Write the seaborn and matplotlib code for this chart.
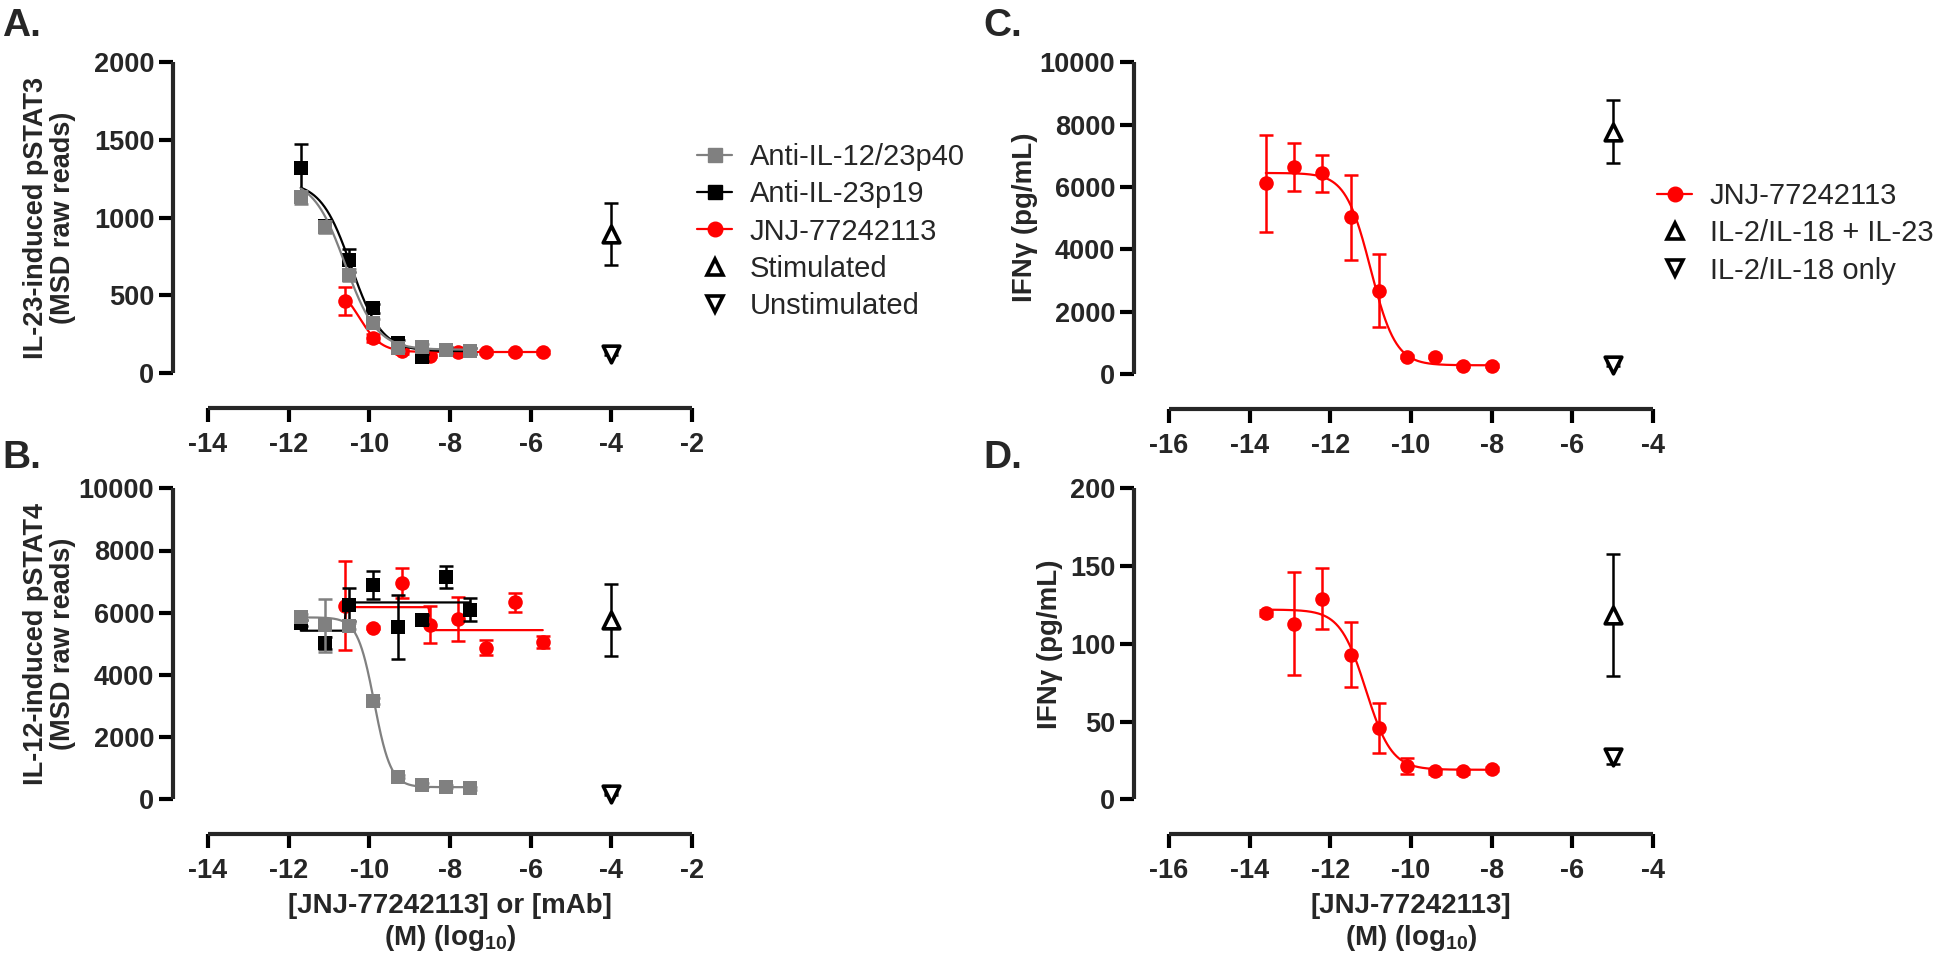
import numpy as np
import pandas as pd
import matplotlib
matplotlib.use('Agg')
import matplotlib.pyplot as plt
from matplotlib.lines import Line2D
import seaborn as sns

# ---- panel A: IL-23 induced pSTAT3 ----
mab_x = [-11.7, -11.1, -10.5, -9.9, -9.3, -8.7, -8.1, -7.5]
jnj_x = [-10.6, -9.9, -9.2, -8.5, -7.8, -7.1, -6.4, -5.7]
a_p40_y = [1130, 940, 630, 320, 160, 165, 150, 140]
a_p40_err = [40, 40, 40, 30, 20, 20, 20, 20]
a_p19_y = [1320, 945, 725, 415, 190, 100, 150, 140]
a_p19_err = [150, 30, 75, 30, 20, 20, 20, 20]
a_jnj_y = [460, 225, 140, 110, 135, 135, 135, 135]
a_jnj_err = [90, 25, 15, 10, 10, 10, 10, 10]
a_stim = [895, 200]
a_unstim = [125, 10]

# ---- panel B: IL-12 induced pSTAT4 ----
b_p40_y = [5850, 5600, 5560, 3150, 730, 460, 405, 355]
b_p40_err = [100, 850, 100, 100, 50, 50, 50, 50]
b_p19_y = [5660, 5020, 6250, 6900, 5550, 5780, 7140, 6100]
b_p19_err = [100, 200, 530, 450, 1030, 150, 350, 380]
b_jnj_y = [6230, 5520, 6960, 5610, 5800, 4880, 6330, 5060]
b_jnj_err = [1420, 50, 480, 600, 700, 250, 300, 180]
b_stim = [5770, 1150]
b_unstim = [180, 30]

# ---- panels C / D: IFNg ----
cd_x = [-13.6, -12.9, -12.2, -11.5, -10.8, -10.1, -9.4, -8.7, -8.0]
c_y = [6120, 6650, 6440, 5030, 2670, 560, 555, 270, 270]
c_err = [1560, 770, 600, 1360, 1170, 60, 50, 40, 40]
c_stim = [7775, 1010]
c_unstim = [300, 40]
d_y = [120, 113, 129, 93, 46, 21.5, 18, 18, 19.5]
d_err = [2, 33, 19.5, 21, 16, 5, 1.5, 1.5, 1.5]
d_stim = [118.5, 39]
d_unstim = [27, 4]

# 4PL fit parameters: top, bottom, logIC50, hill
a_p40_fit = (1250, 150, -10.6, 1.1)
a_p19_fit = (1230, 140, -10.45, 1.15)
a_jnj_fit = (580, 135, -10.25, 1.6)
b_p40_fit = (5850, 390, -9.88, 2.1)
b_p19_fit = (5420, 6330, -10.6, 40)
b_jnj_fit = (6180, 5440, -8.5, 40)
c_fit = (6450, 280, -11.0, 1.4)
d_fit = (122, 19, -11.12, 1.36)

GRAY = '#808080'
RED = '#FF0000'

sns.set_theme(style='ticks')
plt.rcParams['font.family'] = ['Liberation Sans', 'DejaVu Sans']
plt.rcParams['axes.unicode_minus'] = False
plt.rcParams['mathtext.fontset'] = 'custom'
plt.rcParams['mathtext.rm'] = 'Liberation Sans:bold'
plt.rcParams['mathtext.default'] = 'rm'

W, H = 1948, 961
fig = plt.figure(figsize=(W / 100, H / 100), dpi=100)
PX = 0.72  # points per pixel


def add_ax(x0, x1, y_top, y_bot):
    return fig.add_axes([x0 / W, 1 - y_bot / H, (x1 - x0) / W, (y_bot - y_top) / H])


def style(ax, xlim, xticks, ylim, yticks):
    ax.set_facecolor('none')
    ax.set_xlim(xlim)
    ax.set_ylim(ylim)
    ax.set_xticks(xticks)
    ax.set_yticks(yticks)
    for s in ['top', 'right']:
        ax.spines[s].set_visible(False)
    for s in ['left', 'bottom']:
        ax.spines[s].set_position(('outward', 35 * PX))
        ax.spines[s].set_linewidth(3)
        ax.spines[s].set_capstyle('butt')
    ax.tick_params(width=3, length=10, labelsize=19.5, color='black')
    ax.tick_params(axis='x', pad=7)
    ax.tick_params(axis='y', pad=3.5)
    for lab in ax.get_xticklabels() + ax.get_yticklabels():
        lab.set_fontweight('bold')


def fit_curve(ax, lo, hi, params, color, z):
    top, bottom, logc, hill = params
    xs = np.linspace(lo, hi, 400)
    ys = bottom + (top - bottom) / (1 + 10 ** ((xs - logc) * hill))
    sns.lineplot(x=xs, y=ys, ax=ax, color=color, linewidth=1.6, zorder=z)


def points(ax, x, y, err, color, marker, size, z, face=None, ew=0):
    ax.errorbar(x, y, yerr=err, fmt='none', ecolor=color, elinewidth=1.8,
                capsize=4.8, capthick=1.8, zorder=z, clip_on=False)
    df = pd.DataFrame({'x': x, 'y': y})
    sns.scatterplot(data=df, x='x', y='y', ax=ax, marker=marker, s=size ** 2,
                    color=face if face else color, edgecolor=color, linewidth=ew,
                    zorder=z + 0.1, legend=False, clip_on=False)


def controls(ax, xpos, stim, unstim):
    points(ax, [xpos], [stim[0]], [stim[1]], 'black', '^', 12, 5, face='white', ew=2.6)
    points(ax, [xpos], [unstim[0]], [unstim[1]], 'black', 'v', 12, 5, face='white', ew=2.6)


# ---------- A ----------
axA = add_ax(208, 692, 62, 373)
fit_curve(axA, -10.6, -5.7, a_jnj_fit, RED, 2)
points(axA, jnj_x, a_jnj_y, a_jnj_err, RED, 'o', 10.5, 2)
fit_curve(axA, -11.7, -7.5, a_p19_fit, 'black', 3)
points(axA, mab_x, a_p19_y, a_p19_err, 'black', 's', 10.5, 3)
fit_curve(axA, -11.7, -7.5, a_p40_fit, GRAY, 4)
points(axA, mab_x, a_p40_y, a_p40_err, GRAY, 's', 10.5, 4)
controls(axA, -4, a_stim, a_unstim)
style(axA, (-14, -2), range(-14, -1, 2), (0, 2000), range(0, 2001, 500))
axA.set_xlabel('')
axA.set_ylabel('IL-23-induced pSTAT3\n(MSD raw reads)', fontsize=19.5,
               fontweight='bold', linespacing=1.05)
axA.yaxis.set_label_coords(76 / W, 1 - 217.5 / H, transform=fig.transFigure)

# ---------- B ----------
axB = add_ax(208, 692, 488.3, 799.3)
fit_curve(axB, -10.6, -5.7, b_jnj_fit, RED, 2)
points(axB, jnj_x, b_jnj_y, b_jnj_err, RED, 'o', 10.5, 2)
fit_curve(axB, -11.7, -7.5, b_p19_fit, 'black', 3)
points(axB, mab_x, b_p19_y, b_p19_err, 'black', 's', 10.5, 3)
fit_curve(axB, -11.7, -7.5, b_p40_fit, GRAY, 4)
points(axB, mab_x, b_p40_y, b_p40_err, GRAY, 's', 10.5, 4)
controls(axB, -4, b_stim, b_unstim)
style(axB, (-14, -2), range(-14, -1, 2), (0, 10000), range(0, 10001, 2000))
axB.set_ylabel('IL-12-induced pSTAT4\n(MSD raw reads)', fontsize=19.5,
               fontweight='bold', linespacing=1.05)
axB.yaxis.set_label_coords(76 / W, 1 - 643.8 / H, transform=fig.transFigure)
axB.set_xlabel('[JNJ-77242113] or [mAb]\n(M) (log$_{10}$)', fontsize=20,
               fontweight='bold', linespacing=1.2)
axB.xaxis.set_label_coords(450 / W, 1 - 893 / H, transform=fig.transFigure)

# ---------- C ----------
axC = add_ax(1169, 1653, 62.3, 374)
fit_curve(axC, -13.6, -8.0, c_fit, RED, 2)
points(axC, cd_x, c_y, c_err, RED, 'o', 10.5, 2)
controls(axC, -5, c_stim, c_unstim)
style(axC, (-16, -4), range(-16, -3, 2), (0, 10000), range(0, 10001, 2000))
axC.set_xlabel('')
axC.set_ylabel('IFNγ (pg/mL)', fontsize=20, fontweight='bold')
axC.yaxis.set_label_coords(1038 / W, 1 - 217.5 / H, transform=fig.transFigure)

# ---------- D ----------
axD = add_ax(1169, 1653, 488.3, 799.3)
fit_curve(axD, -13.6, -8.0, d_fit, RED, 2)
points(axD, cd_x, d_y, d_err, RED, 'o', 10.5, 2)
controls(axD, -5, d_stim, d_unstim)
style(axD, (-16, -4), range(-16, -3, 2), (0, 200), range(0, 201, 50))
axD.set_ylabel('IFNγ (pg/mL)', fontsize=20, fontweight='bold')
axD.yaxis.set_label_coords(1063 / W, 1 - 643.8 / H, transform=fig.transFigure)
axD.set_xlabel('[JNJ-77242113]\n(M) (log$_{10}$)', fontsize=20,
               fontweight='bold', linespacing=1.2)
axD.xaxis.set_label_coords(1411 / W, 1 - 893 / H, transform=fig.transFigure)

# ---------- legends ----------
def tri(m):
    return Line2D([], [], color='black', marker=m, ms=12, mfc='white', mew=2.6, lw=0)


leg_kw = dict(loc='upper left', frameon=False, fontsize=21, handlelength=1.2,
              handletextpad=0.6, labelspacing=0.32, borderpad=0, borderaxespad=0)

handles_ab = [Line2D([], [], color=GRAY, marker='s', ms=10.5, lw=1.6),
              Line2D([], [], color='black', marker='s', ms=10.5, lw=1.6),
              Line2D([], [], color=RED, marker='o', ms=10.5, lw=1.6),
              tri('^'), tri('v')]
labels_ab = ['Anti-IL-12/23p40', 'Anti-IL-23p19', 'JNJ-77242113', 'Stimulated', 'Unstimulated']
fig.legend(handles_ab, labels_ab, bbox_to_anchor=(697 / W, 1 - 143 / H), **leg_kw)

handles_c = [Line2D([], [], color=RED, marker='o', ms=10.5, lw=1.6), tri('^'), tri('v')]
labels_c = ['JNJ-77242113', 'IL-2/IL-18 + IL-23', 'IL-2/IL-18 only']
fig.legend(handles_c, labels_c, bbox_to_anchor=(1657 / W, 1 - 182 / H), **leg_kw)

# ---------- panel letters ----------
for txt, x, y in [('A.', 2, 8), ('B.', 2, 440), ('C.', 983, 8), ('D.', 983, 440)]:
    fig.text(x / W, 1 - y / H, txt, fontsize=28, fontweight='bold', va='top', ha='left')

fig.savefig('out.png', dpi=100)
